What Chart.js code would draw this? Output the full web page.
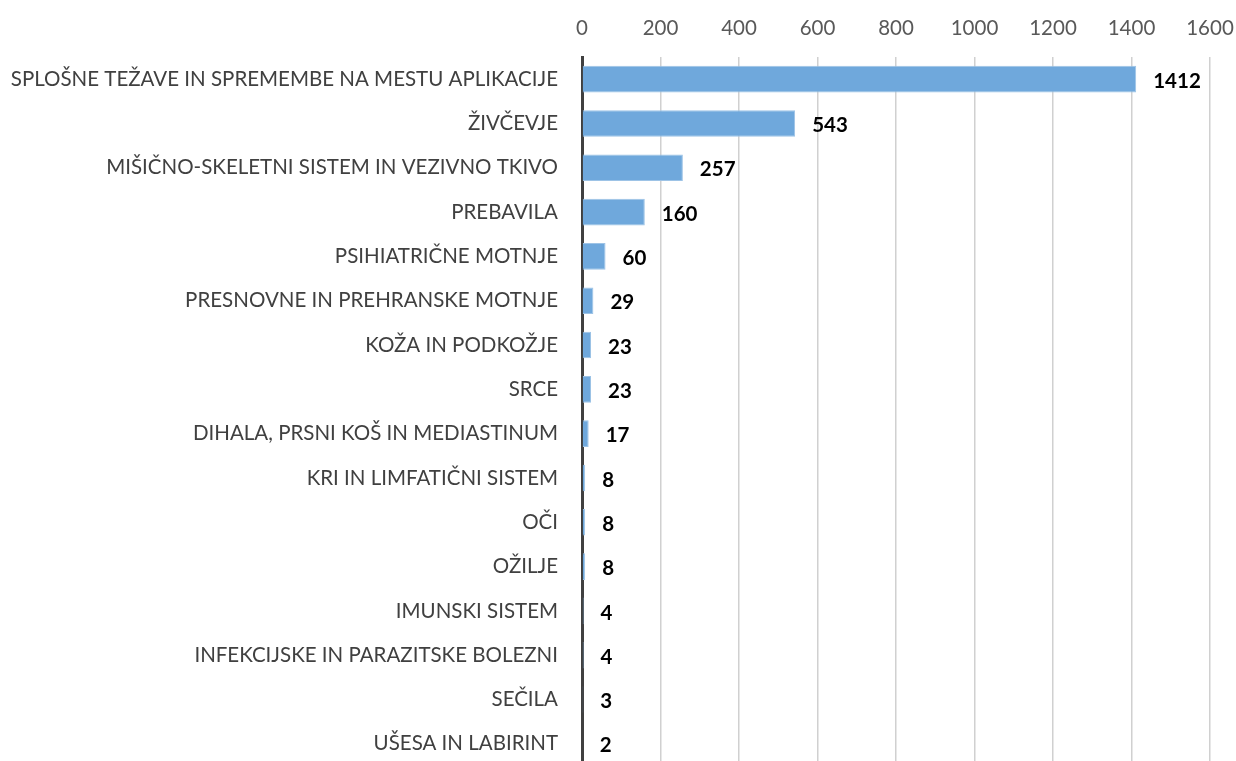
<!DOCTYPE html>
<html>
<head>
<meta charset="utf-8">
<script src="https://cdn.jsdelivr.net/npm/chart.js@4"></script>
<style>
  html, body { margin: 0; padding: 0; background: #fff; overflow: hidden; }
</style>
</head>
<body>
<canvas id="chart" width="1236" height="766"></canvas>
<script>
// ── Data ────────────────────────────────────────────────────────────────
const categories = [
    'SPLOŠNE TEŽAVE IN SPREMEMBE NA MESTU APLIKACIJE',
    'ŽIVČEVJE',
    'MIŠIČNO-SKELETNI SISTEM IN VEZIVNO TKIVO',
    'PREBAVILA',
    'PSIHIATRIČNE MOTNJE',
    'PRESNOVNE IN PREHRANSKE MOTNJE',
    'KOŽA IN PODKOŽJE',
    'SRCE',
    'DIHALA, PRSNI KOŠ IN MEDIASTINUM',
    'KRI IN LIMFATIČNI SISTEM',
    'OČI',
    'OŽILJE',
    'IMUNSKI SISTEM',
    'INFEKCIJSKE IN PARAZITSKE BOLEZNI',
    'SEČILA',
    'UŠESA IN LABIRINT'
];
const counts = [1412, 543, 257, 160, 60, 29, 23, 23, 17, 8, 8, 8, 4, 4, 3, 2];
const xTicks = [0, 200, 400, 600, 800, 1000, 1200, 1400, 1600];

const FONT = 'Lato, Carlito, "Open Sans", sans-serif';

// ── Value labels at bar ends ────────────────────────────────────────────
const valueLabels = {
    id: 'valueLabels',
    afterDatasetsDraw(chart) {
        const { ctx } = chart;
        const meta = chart.getDatasetMeta(0);
        ctx.save();
        ctx.font = 'bold 20.5px ' + FONT;
        ctx.fillStyle = '#000';
        ctx.textAlign = 'left';
        ctx.textBaseline = 'middle';
        meta.data.forEach((bar, i) => {
            ctx.fillText(String(counts[i]), bar.x + 17, bar.y + 2);
        });
        ctx.restore();
    }
};

new Chart(document.getElementById('chart'), {
    type: 'bar',
    data: {
        labels: categories,
        datasets: [{
            data: counts,
            backgroundColor: '#6fa8dc',
            borderColor: '#9dc3e6',
            borderWidth: 1,
            barPercentage: 0.6,
            categoryPercentage: 1
        }]
    },
    options: {
        responsive: false,
        indexAxis: 'y',
        animation: false,
        layout: { padding: 0 },
        plugins: {
            legend: { display: false },
            tooltip: { enabled: false }
        },
        scales: {
            x: {
                position: 'top',
                min: 0,
                max: 1600,
                afterBuildTicks: s => { s.ticks = xTicks.map(v => ({ value: v })); },
                afterFit: s => {
                    s.height = 57;
                    s.paddingLeft = 0;
                    s.paddingRight = 26;
                },
                grid: {
                    color: ctx => ctx.tick && ctx.tick.value === 0 ? 'rgba(0,0,0,0)' : '#d0d0d0',
                    lineWidth: 1.5,
                    drawTicks: false
                },
                border: { display: false },
                ticks: {
                    color: '#595959',
                    font: { family: FONT, size: 20.5 },
                    padding: 16,
                    callback: v => String(v)
                }
            },
            y: {
                afterFit: s => {
                    s.width = 582;
                    s.paddingTop = 0;
                    s.paddingBottom = 0;
                },
                grid: { display: false, drawTicks: false },
                border: { display: true, color: '#404040', width: 3 },
                ticks: { color: '#404040', font: { family: FONT, size: 20.5 }, padding: 24, autoSkip: false }
            }
        }
    },
    plugins: [valueLabels]
});
</script>
</body>
</html>
